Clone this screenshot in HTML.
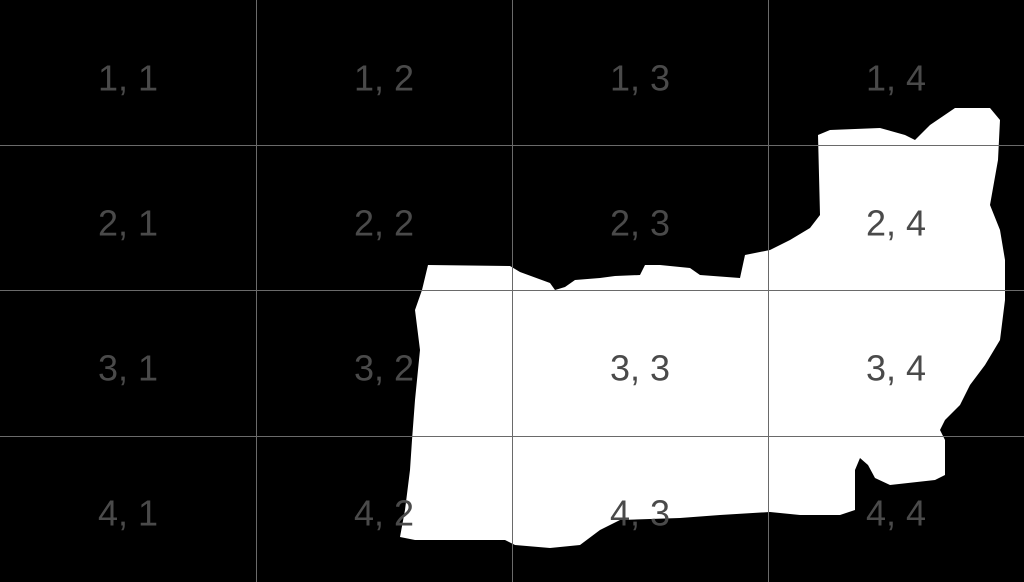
<!DOCTYPE html>
<html><head><meta charset="utf-8"><style>
html,body{margin:0;padding:0;background:#000;width:1024px;height:582px;overflow:hidden}
svg{display:block}
text{font-family:"Liberation Sans",sans-serif;font-size:36px;fill:#4a4a4a;text-anchor:middle;dominant-baseline:central}
</style></head><body>
<svg width="1024" height="582" viewBox="0 0 1024 582">
<rect width="1024" height="582" fill="#000"/>
<path fill="#fff" d="M428,265 L510,266 L520,272 L550,283 L555,290 L565,287 L575,280 L600,278 L615,276 L640,275 L645,265 L660,265 L690,268 L700,275 L740,278 L745,255 L770,250 L790,240 L810,228 L820,215 L818,135 L830,130 L880,128 L905,135 L915,140 L930,125 L955,108 L990,108 L1000,120 L998,160 L990,205 L1000,230 L1005,260 L1005,300 L1000,340 L985,365 L970,385 L960,405 L945,420 L940,430 L945,440 L945,475 L935,480 L890,485 L875,478 L868,465 L860,458 L855,470 L855,510 L840,515 L800,515 L770,512 L720,515 L680,518 L620,520 L600,530 L580,545 L550,548 L515,545 L505,540 L450,540 L415,540 L400,537 L405,510 L410,470 L412,440 L415,400 L420,350 L415,310 L422,290 Z"/>
<g stroke="#6a6a6a" stroke-width="1">
<line x1="256.5" y1="0" x2="256.5" y2="582"/>
<line x1="512.5" y1="0" x2="512.5" y2="582"/>
<line x1="768.5" y1="0" x2="768.5" y2="582"/>
<line x1="0" y1="145.5" x2="1024" y2="145.5"/>
<line x1="0" y1="290.5" x2="1024" y2="290.5"/>
<line x1="0" y1="436.5" x2="1024" y2="436.5"/>
</g>
<g>
<text x="128" y="78">1, 1</text><text x="384" y="78">1, 2</text><text x="640" y="78">1, 3</text><text x="896" y="78">1, 4</text>
<text x="128" y="223">2, 1</text><text x="384" y="223">2, 2</text><text x="640" y="223">2, 3</text><text x="896" y="223">2, 4</text>
<text x="128" y="368">3, 1</text><text x="384" y="368">3, 2</text><text x="640" y="368">3, 3</text><text x="896" y="368">3, 4</text>
<text x="128" y="513">4, 1</text><text x="384" y="513">4, 2</text><text x="640" y="513">4, 3</text><text x="896" y="513">4, 4</text>
</g>
</svg>
</body></html>
